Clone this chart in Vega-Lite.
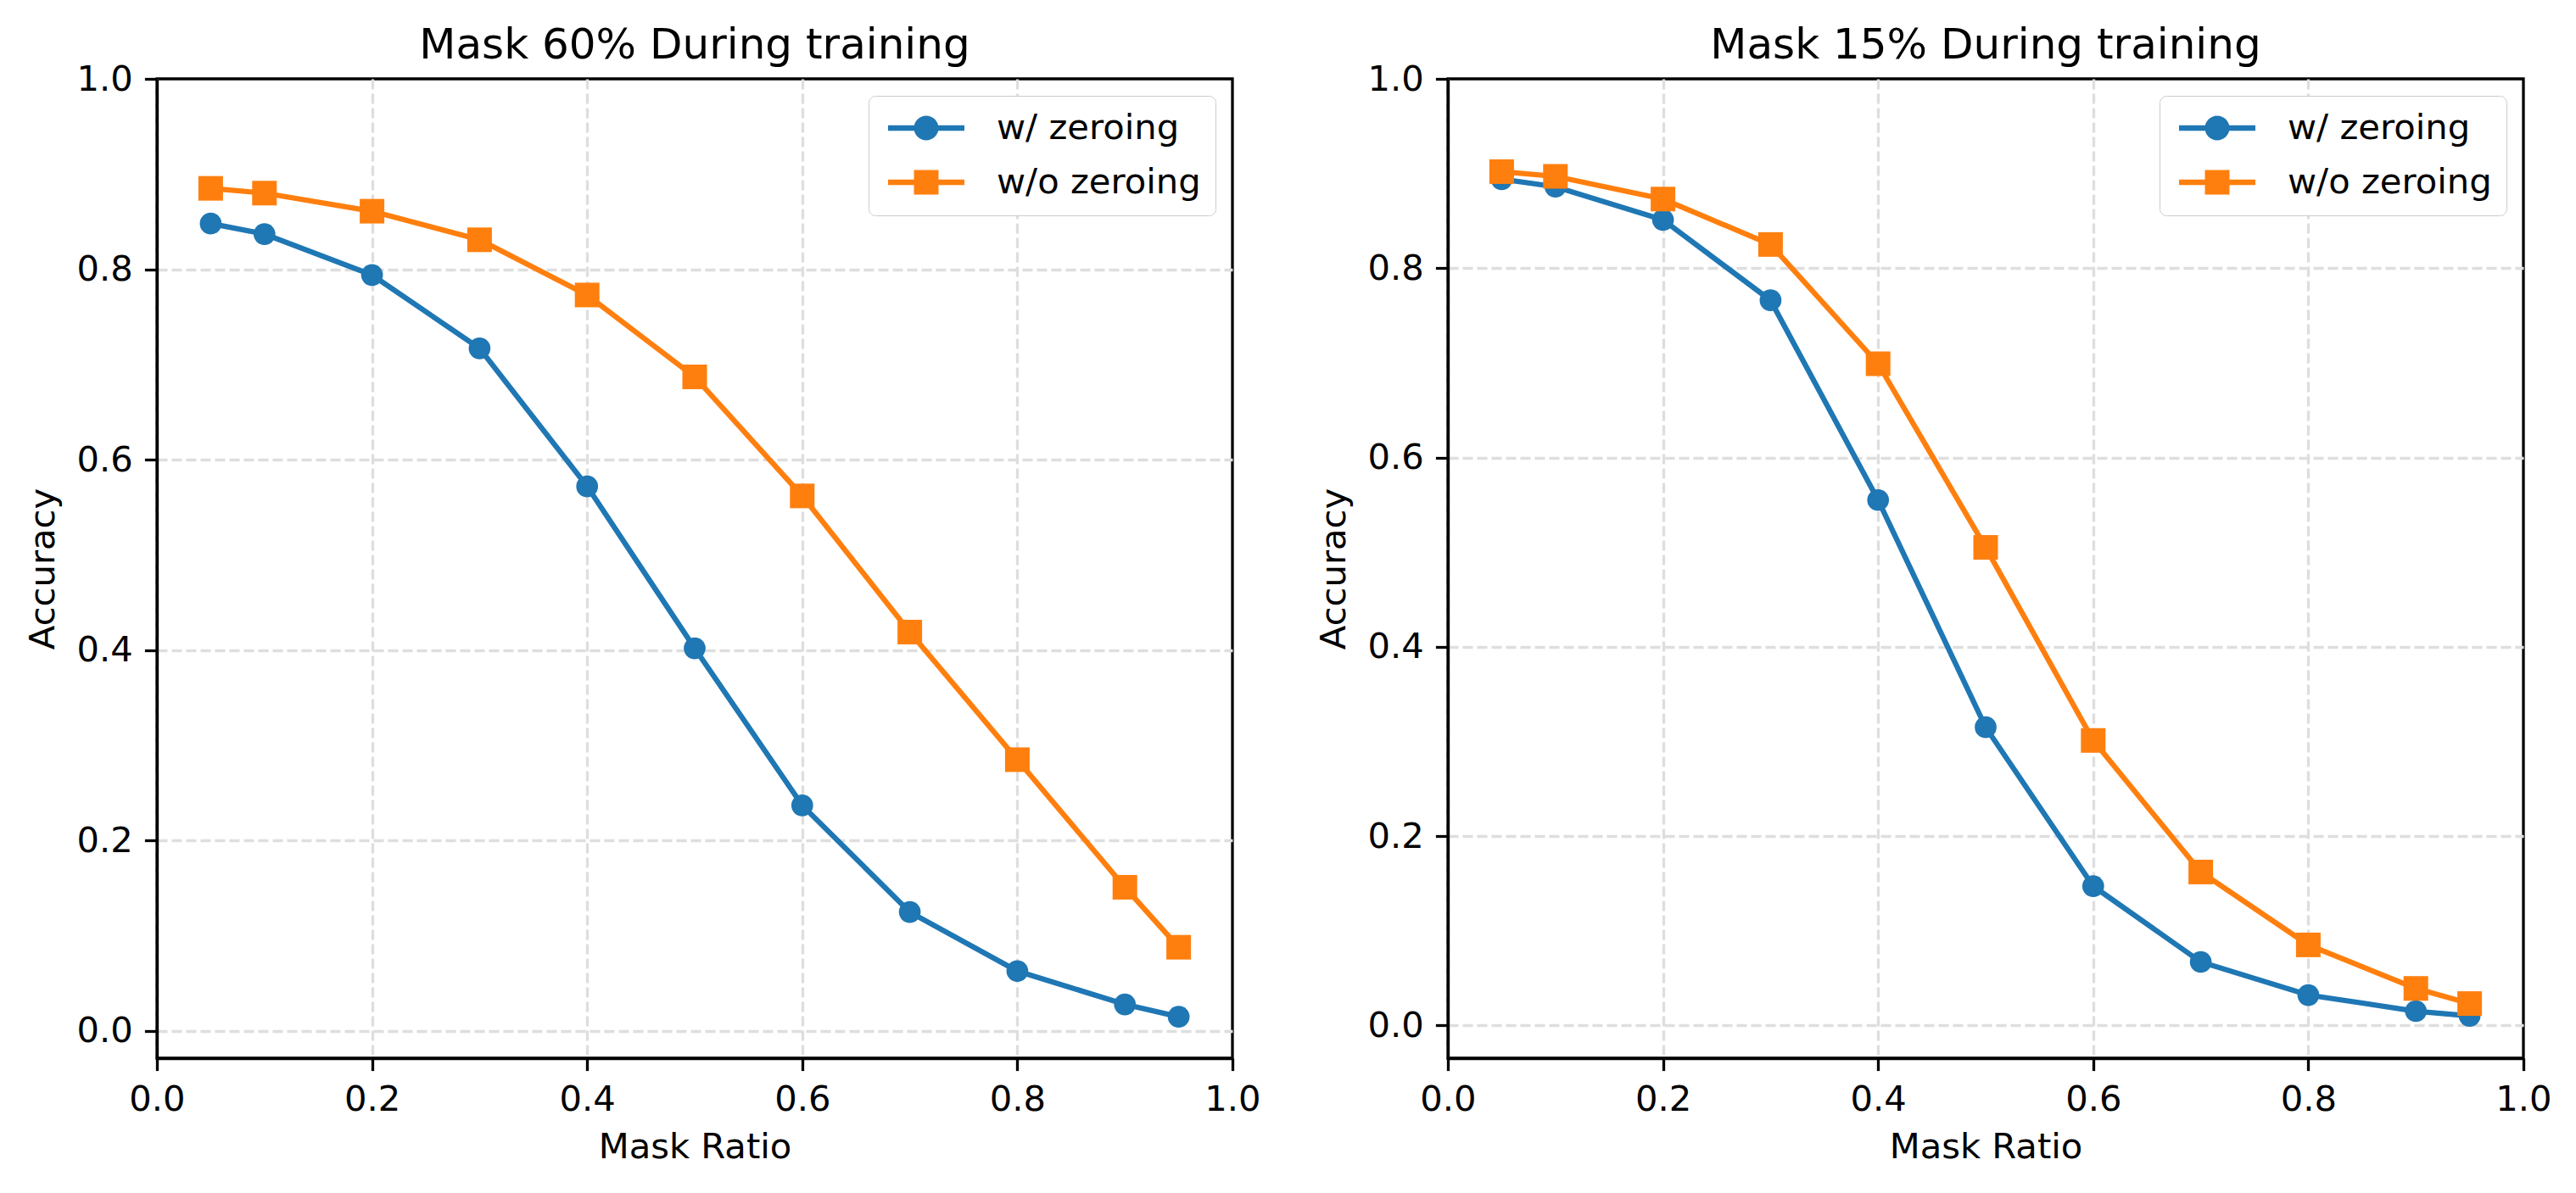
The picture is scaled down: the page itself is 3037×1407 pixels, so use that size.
{
  "$schema": "https://vega.github.io/schema/vega-lite/v6.json",
  "padding": {"left": 28, "top": 27, "right": 0, "bottom": 0},
  "bounds": "flush",
  "spacing": 254,
  "datasets": {
    "acc": [
      {"panel": "60", "series": "w/ zeroing", "ratio": 0.05, "acc": 0.848},
      {"panel": "60", "series": "w/ zeroing", "ratio": 0.1, "acc": 0.837},
      {"panel": "60", "series": "w/ zeroing", "ratio": 0.2, "acc": 0.794},
      {"panel": "60", "series": "w/ zeroing", "ratio": 0.3, "acc": 0.717},
      {"panel": "60", "series": "w/ zeroing", "ratio": 0.4, "acc": 0.572},
      {"panel": "60", "series": "w/ zeroing", "ratio": 0.5, "acc": 0.402},
      {"panel": "60", "series": "w/ zeroing", "ratio": 0.6, "acc": 0.237},
      {"panel": "60", "series": "w/ zeroing", "ratio": 0.7, "acc": 0.125},
      {"panel": "60", "series": "w/ zeroing", "ratio": 0.8, "acc": 0.063},
      {"panel": "60", "series": "w/ zeroing", "ratio": 0.9, "acc": 0.028},
      {"panel": "60", "series": "w/ zeroing", "ratio": 0.95, "acc": 0.015},
      {"panel": "60", "series": "w/o zeroing", "ratio": 0.05, "acc": 0.885},
      {"panel": "60", "series": "w/o zeroing", "ratio": 0.1, "acc": 0.880},
      {"panel": "60", "series": "w/o zeroing", "ratio": 0.2, "acc": 0.861},
      {"panel": "60", "series": "w/o zeroing", "ratio": 0.3, "acc": 0.831},
      {"panel": "60", "series": "w/o zeroing", "ratio": 0.4, "acc": 0.773},
      {"panel": "60", "series": "w/o zeroing", "ratio": 0.5, "acc": 0.687},
      {"panel": "60", "series": "w/o zeroing", "ratio": 0.6, "acc": 0.562},
      {"panel": "60", "series": "w/o zeroing", "ratio": 0.7, "acc": 0.419},
      {"panel": "60", "series": "w/o zeroing", "ratio": 0.8, "acc": 0.285},
      {"panel": "60", "series": "w/o zeroing", "ratio": 0.9, "acc": 0.151},
      {"panel": "60", "series": "w/o zeroing", "ratio": 0.95, "acc": 0.088},
      {"panel": "15", "series": "w/ zeroing", "ratio": 0.05, "acc": 0.894},
      {"panel": "15", "series": "w/ zeroing", "ratio": 0.1, "acc": 0.886},
      {"panel": "15", "series": "w/ zeroing", "ratio": 0.2, "acc": 0.851},
      {"panel": "15", "series": "w/ zeroing", "ratio": 0.3, "acc": 0.766},
      {"panel": "15", "series": "w/ zeroing", "ratio": 0.4, "acc": 0.555},
      {"panel": "15", "series": "w/ zeroing", "ratio": 0.5, "acc": 0.315},
      {"panel": "15", "series": "w/ zeroing", "ratio": 0.6, "acc": 0.147},
      {"panel": "15", "series": "w/ zeroing", "ratio": 0.7, "acc": 0.067},
      {"panel": "15", "series": "w/ zeroing", "ratio": 0.8, "acc": 0.032},
      {"panel": "15", "series": "w/ zeroing", "ratio": 0.9, "acc": 0.015},
      {"panel": "15", "series": "w/ zeroing", "ratio": 0.95, "acc": 0.010},
      {"panel": "15", "series": "w/o zeroing", "ratio": 0.05, "acc": 0.902},
      {"panel": "15", "series": "w/o zeroing", "ratio": 0.1, "acc": 0.897},
      {"panel": "15", "series": "w/o zeroing", "ratio": 0.2, "acc": 0.873},
      {"panel": "15", "series": "w/o zeroing", "ratio": 0.3, "acc": 0.825},
      {"panel": "15", "series": "w/o zeroing", "ratio": 0.4, "acc": 0.699},
      {"panel": "15", "series": "w/o zeroing", "ratio": 0.5, "acc": 0.505},
      {"panel": "15", "series": "w/o zeroing", "ratio": 0.6, "acc": 0.301},
      {"panel": "15", "series": "w/o zeroing", "ratio": 0.7, "acc": 0.162},
      {"panel": "15", "series": "w/o zeroing", "ratio": 0.8, "acc": 0.085},
      {"panel": "15", "series": "w/o zeroing", "ratio": 0.9, "acc": 0.039},
      {"panel": "15", "series": "w/o zeroing", "ratio": 0.95, "acc": 0.023}
    ]
  },
  "hconcat": [
    {
      "width": 1268,
      "height": 1155,
      "data": {"name": "acc"},
      "transform": [{"filter": "datum.panel == '60'"}],
      "title": {"text": "Mask 60% During training"},
      "encoding": {
        "x": {
          "field": "ratio", "type": "quantitative", "title": "Mask Ratio",
          "scale": {"domain": [0, 1], "nice": false, "zero": false},
          "axis": {"values": [0, 0.2, 0.4, 0.6, 0.8, 1.0], "format": ".1f",
                   "gridOpacity": {"condition": {"test": "datum.value === 1", "value": 0}, "value": 1}}
        },
        "y": {
          "field": "acc", "type": "quantitative", "title": "Accuracy",
          "scale": {"domain": [-0.0285, 1], "nice": false, "zero": false},
          "axis": {"values": [0, 0.2, 0.4, 0.6, 0.8, 1.0], "format": ".1f",
                   "gridOpacity": {"condition": {"test": "datum.value === 1", "value": 0}, "value": 1}}
        },
        "color": {
          "field": "series", "type": "nominal",
          "scale": {"domain": ["w/ zeroing", "w/o zeroing"], "range": ["#1f77b4", "#ff7f0e"]},
          "legend": {
            "title": null, "orient": "top-right", "offset": 20,
            "encode": {
              "symbols": {
                "update": {
                  "shape": {"signal": "datum.value === 'w/ zeroing' ? 'M-2.143,-0.16H-0.67V0.16H-2.143Z M0.67,-0.16H2.143V0.16H0.67Z M-0.69,0C-0.69,-0.381,-0.381,-0.69,0,-0.69C0.381,-0.69,0.69,-0.381,0.69,0C0.69,0.381,0.381,0.69,0,0.69C-0.381,0.69,-0.69,0.381,-0.69,0Z' : 'M-2.143,-0.16H-0.69V0.16H-2.143Z M0.69,-0.16H2.143V0.16H0.69Z M-0.69,-0.69H0.69V0.69H-0.69Z'"},
                  "fill": {"signal": "datum.value === 'w/ zeroing' ? '#1f77b4' : '#ff7f0e'"},
                  "fillOpacity": {"value": 1},
                  "opacity": {"value": 1},
                  "strokeWidth": {"value": 0},
                  "size": {"value": 1764}
                }
              }
            }
          }
        }
      },
      "layer": [
        {"mark": {"type": "line", "strokeWidth": 6.25}},
        {
          "transform": [{"filter": "datum.series == 'w/ zeroing'"}],
          "mark": {"type": "point", "shape": "circle", "size": 660, "filled": true, "opacity": 1}
        },
        {
          "transform": [{"filter": "datum.series == 'w/o zeroing'"}],
          "mark": {"type": "point", "shape": "square", "size": 841, "filled": true, "opacity": 1}
        }
      ]
    },
    {
      "width": 1268,
      "height": 1155,
      "data": {"name": "acc"},
      "transform": [{"filter": "datum.panel == '15'"}],
      "title": {"text": "Mask 15% During training"},
      "encoding": {
        "x": {
          "field": "ratio", "type": "quantitative", "title": "Mask Ratio",
          "scale": {"domain": [0, 1], "nice": false, "zero": false},
          "axis": {"values": [0, 0.2, 0.4, 0.6, 0.8, 1.0], "format": ".1f",
                   "gridOpacity": {"condition": {"test": "datum.value === 1", "value": 0}, "value": 1}}
        },
        "y": {
          "field": "acc", "type": "quantitative", "title": "Accuracy",
          "scale": {"domain": [-0.0347, 1], "nice": false, "zero": false},
          "axis": {"values": [0, 0.2, 0.4, 0.6, 0.8, 1.0], "format": ".1f",
                   "gridOpacity": {"condition": {"test": "datum.value === 1", "value": 0}, "value": 1}}
        },
        "color": {
          "field": "series", "type": "nominal",
          "scale": {"domain": ["w/ zeroing", "w/o zeroing"], "range": ["#1f77b4", "#ff7f0e"]},
          "legend": {
            "title": null, "orient": "top-right", "offset": 20,
            "encode": {
              "symbols": {
                "update": {
                  "shape": {"signal": "datum.value === 'w/ zeroing' ? 'M-2.143,-0.16H-0.67V0.16H-2.143Z M0.67,-0.16H2.143V0.16H0.67Z M-0.69,0C-0.69,-0.381,-0.381,-0.69,0,-0.69C0.381,-0.69,0.69,-0.381,0.69,0C0.69,0.381,0.381,0.69,0,0.69C-0.381,0.69,-0.69,0.381,-0.69,0Z' : 'M-2.143,-0.16H-0.69V0.16H-2.143Z M0.69,-0.16H2.143V0.16H0.69Z M-0.69,-0.69H0.69V0.69H-0.69Z'"},
                  "fill": {"signal": "datum.value === 'w/ zeroing' ? '#1f77b4' : '#ff7f0e'"},
                  "fillOpacity": {"value": 1},
                  "opacity": {"value": 1},
                  "strokeWidth": {"value": 0},
                  "size": {"value": 1764}
                }
              }
            }
          }
        }
      },
      "layer": [
        {"mark": {"type": "line", "strokeWidth": 6.25}},
        {
          "transform": [{"filter": "datum.series == 'w/ zeroing'"}],
          "mark": {"type": "point", "shape": "circle", "size": 660, "filled": true, "opacity": 1}
        },
        {
          "transform": [{"filter": "datum.series == 'w/o zeroing'"}],
          "mark": {"type": "point", "shape": "square", "size": 841, "filled": true, "opacity": 1}
        }
      ]
    }
  ],
  "resolve": {"scale": {"color": "independent"}, "legend": {"color": "independent"}},
  "config": {
    "font": "DejaVu Sans",
    "background": "white",
    "view": {"stroke": "#000000", "strokeWidth": 3.3},
    "title": {"fontSize": 50, "fontWeight": "normal", "color": "#000000", "offset": -6, "anchor": "middle"},
    "axis": {
      "labelFontSize": 41.7, "titleFontSize": 41.7, "titleFontWeight": "normal",
      "labelColor": "#000000", "titleColor": "#000000",
      "domainColor": "#000000", "domainWidth": 3.3,
      "tickColor": "#000000", "tickWidth": 3.3, "tickSize": 14.6,
      "labelPadding": 14, "labelFlush": false, "labelOverlap": false,
      "grid": true, "gridColor": "#dedede", "gridWidth": 3.3, "gridDash": [12, 5]
    },
    "axisX": {"titlePadding": 14},
    "axisY": {"titlePadding": 18},
    "legend": {
      "labelFontSize": 41.7, "labelColor": "#000000", "labelFont": "DejaVu Sans", "labelLimit": 0,
      "padding": 17, "strokeColor": "#cccccc", "fillColor": "#ffffff", "cornerRadius": 8,
      "symbolSize": 1764, "symbolOffset": 30, "rowPadding": 21, "labelOffset": 62
    }
  }
}
